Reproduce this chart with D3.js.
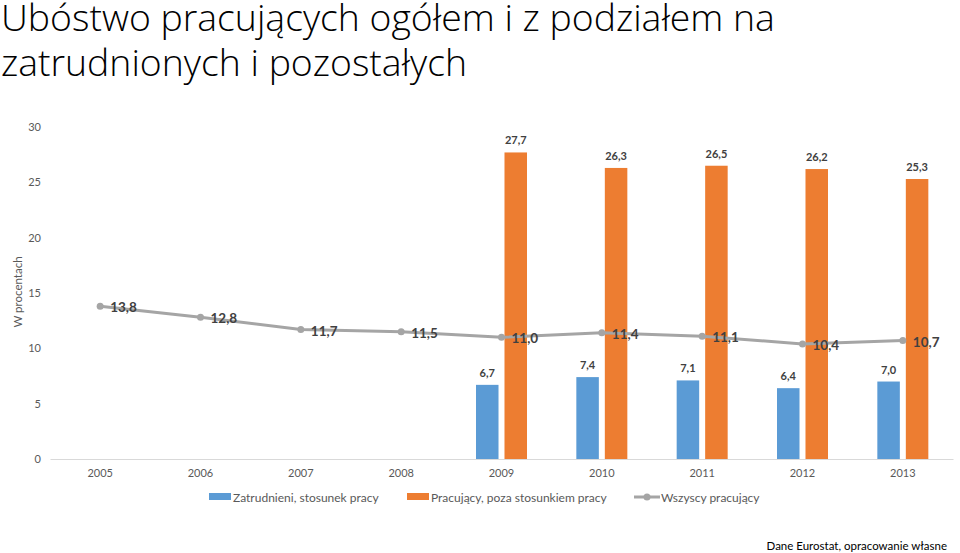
<!DOCTYPE html>
<html>
<head>
<meta charset="utf-8">
<script src="https://cdn.jsdelivr.net/npm/d3@7"></script>
<style>
  body { margin: 0; background: #fff; }
  text { font-family: Lato, "Open Sans", sans-serif; }
  text.title { font-family: "Open Sans", sans-serif; font-weight: 300; }
</style>
</head>
<body>
<div id="container"></div>
<script>
/* DATA */
const years = ["2005", "2006", "2007", "2008", "2009", "2010", "2011", "2012", "2013"];
const zatrudnieni = [null, null, null, null, 6.7, 7.4, 7.1, 6.4, 7.0];
const pozaStosunkiem = [null, null, null, null, 27.7, 26.3, 26.5, 26.2, 25.3];
const wszyscy = [13.8, 12.8, 11.7, 11.5, 11.0, 11.4, 11.1, 10.4, 10.7];
const yTicks = [0, 5, 10, 15, 20, 25, 30];
const seriesNames = ["Zatrudnieni, stosunek pracy", "Pracujący, poza stosunkiem pracy", "Wszyscy pracujący"];
const titleLines = ["Ubóstwo pracujących ogółem i z podziałem na", "zatrudnionych i pozostałych"];

/* CONSTANTS */
const width = 960, height = 553;
const margin = {top: 127, bottom: 94, left: 50, right: 7};
const colors = {blue: "#5B9BD5", orange: "#ED7D31", gray: "#A5A5A5"};
const fmt = v => d3.format(".1f")(v).replace(".", ",");

const svg = d3.select("#container").append("svg")
  .attr("width", width).attr("height", height);

// title, one text with two lines
const title = svg.append("text")
  .attr("class", "title")
  .attr("fill", "#000")
  .attr("font-size", 32);
title.selectAll("tspan")
  .data(titleLines)
  .join("tspan")
  .attr("x", 1)
  .attr("y", (d, i) => 31 + i * 45)
  .text(d => d);
// fit title width to the reference
const firstLine = title.select("tspan").node();
const scaleT = 774 / firstLine.getComputedTextLength();
title.attr("font-size", 32 * scaleT);

/* SCALES */
const xScale = d3.scaleBand()
  .domain(years)
  .range([margin.left, width - margin.right]);

const xSub = d3.scaleBand()
  .domain(["z", "p"])
  .range([-25.5, 25.5])
  .paddingInner(0.21);

const yScale = d3.scaleLinear()
  .domain([0, 30])
  .range([height - margin.bottom, margin.top]);

const cx = y => xScale(y) + xScale.bandwidth() / 2;

/* AXES */
const yAxis = svg.append("g")
  .attr("transform", `translate(${margin.left - 9},0)`)
  .call(d3.axisLeft(yScale).tickValues(yTicks).tickSize(0).tickPadding(0));
yAxis.select(".domain").remove();
yAxis.selectAll("text").attr("font-size", 11).attr("fill", "#595959");

const xAxis = svg.append("g")
  .attr("transform", `translate(0,${yScale(0)})`)
  .call(d3.axisBottom(xScale).tickSize(0).tickPadding(10));
xAxis.select(".domain").attr("stroke", "#D9D9D9");
xAxis.selectAll("text").attr("font-size", 11).attr("fill", "#595959");

svg.append("text")
  .attr("transform", "translate(22,292) rotate(-90)")
  .attr("text-anchor", "middle")
  .attr("font-size", 11.5).attr("fill", "#595959")
  .text("W procentach");

/* BARS */
const barData = [];
years.forEach((y, i) => {
  if (zatrudnieni[i] != null) barData.push({year: y, key: "z", value: zatrudnieni[i], color: colors.blue});
  if (pozaStosunkiem[i] != null) barData.push({year: y, key: "p", value: pozaStosunkiem[i], color: colors.orange});
});

svg.selectAll("rect.bar")
  .data(barData)
  .join("rect")
  .attr("class", "bar")
  .attr("x", d => cx(d.year) + xSub(d.key))
  .attr("width", xSub.bandwidth())
  .attr("y", d => yScale(d.value))
  .attr("height", d => yScale(0) - yScale(d.value))
  .attr("fill", d => d.color);

svg.selectAll("text.barlabel")
  .data(barData)
  .join("text")
  .attr("class", "barlabel")
  .attr("x", d => cx(d.year) + xSub(d.key) + xSub.bandwidth() / 2)
  .attr("y", d => yScale(d.value) - 8)
  .attr("text-anchor", "middle")
  .attr("font-size", 11).attr("font-weight", 700).attr("fill", "#404040")
  .text(d => fmt(d.value));

/* LINE */
const lineData = years.map((y, i) => ({year: y, value: wszyscy[i]}));
svg.append("path")
  .datum(lineData)
  .attr("fill", "none")
  .attr("stroke", colors.gray)
  .attr("stroke-width", 3)
  .attr("d", d3.line().x(d => cx(d.year)).y(d => yScale(d.value)));

svg.selectAll("circle.pt")
  .data(lineData)
  .join("circle")
  .attr("class", "pt")
  .attr("cx", d => cx(d.year))
  .attr("cy", d => yScale(d.value))
  .attr("r", 3.5)
  .attr("fill", colors.gray);

svg.selectAll("text.linelabel")
  .data(lineData)
  .join("text")
  .attr("class", "linelabel")
  .attr("x", d => cx(d.year) + 10)
  .attr("y", d => yScale(d.value) + 6)
  .attr("font-size", 13.5).attr("font-weight", 700).attr("fill", "#404040")
  .text(d => fmt(d.value));

/* LEGEND */
const legend = svg.append("g").attr("transform", "translate(0,497)");
const legendX = [209, 407, 634];
seriesNames.forEach((name, i) => {
  const g = legend.append("g").attr("transform", `translate(${legendX[i]},0)`);
  if (i < 2) {
    g.append("rect").attr("x", 0).attr("y", -4).attr("width", 22).attr("height", 7)
      .attr("fill", i === 0 ? colors.blue : colors.orange);
    g.append("text").attr("x", 24).attr("y", 4.5)
      .attr("font-size", 12).attr("fill", "#595959").text(name);
  } else {
    g.append("line").attr("x1", 0).attr("x2", 26).attr("y1", 0).attr("y2", 0)
      .attr("stroke", colors.gray).attr("stroke-width", 3);
    g.append("circle").attr("cx", 13).attr("cy", 0).attr("r", 3.5).attr("fill", colors.gray);
    g.append("text").attr("x", 27).attr("y", 4.5)
      .attr("font-size", 12).attr("fill", "#595959").text(name);
  }
});

/* SOURCE */
svg.append("text")
  .attr("x", 947).attr("y", 550)
  .attr("text-anchor", "end")
  .attr("font-size", 11.5).attr("fill", "#000")
  .text("Dane Eurostat, opracowanie własne");
</script>
</body>
</html>
